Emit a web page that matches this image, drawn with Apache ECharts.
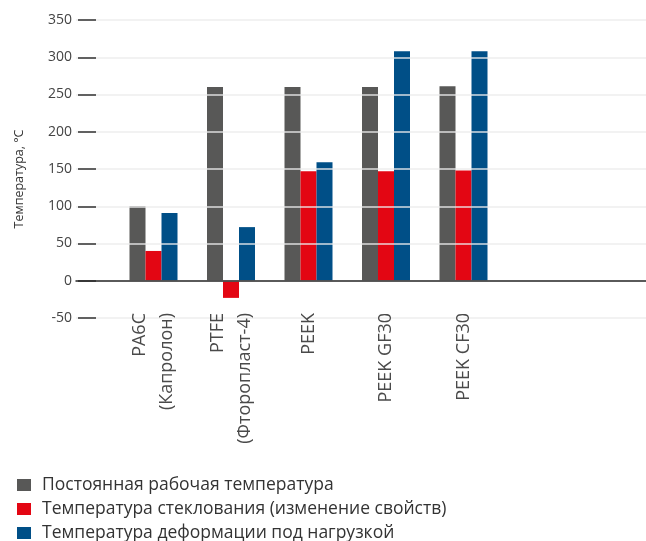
<!DOCTYPE html>
<html lang="ru">
<head>
    <meta charset="UTF-8">
    <title>Температуры материалов</title>
    <script src="https://cdn.jsdelivr.net/npm/echarts/dist/echarts.min.js"></script>
    <style>
        body { margin: 0; background: #fff; }
        #chart { width: 646px; height: 541px; }
    </style>
</head>
<body>
<div id="chart"></div>
<script>
    // материалы и значения (°C)
    const materials = ['PA6C\n(Капролон)', 'PTFE\n(Фторопласт-4)', 'PEEK', 'PEEK GF30', 'PEEK CF30'];
    const workTemp = [100, 260, 260, 260, 261];
    const glassTemp = [40, -23, 147, 147, 148];
    const deformTemp = [91, 72, 159, 308, 308];
    const seriesNames = [
        'Постоянная рабочая температура',
        'Температура стеклования (изменение свойств)',
        'Температура деформации под нагрузкой'
    ];
    const colors = ['#585857', '#e30613', '#004f87'];

    // пустые категории слева и справа, как на исходнике
    const pad = arr => ['-'].concat(arr, ['-', '-', '-']);
    const categories = [''].concat(materials, ['', '', '']);

    const chart = echarts.init(document.getElementById('chart'));
    const font = '"Open Sans", "Noto Sans", sans-serif';

    chart.setOption({
        animation: false,
        color: colors,
        textStyle: { fontFamily: font },
        grid: { left: 76, top: 20, right: -50, bottom: 223, outerBoundsMode: 'none' },
        legend: {
            orient: 'vertical',
            left: 17,
            top: 476,
            height: 100,
            padding: 0,
            icon: 'rect',
            itemWidth: 14,
            itemHeight: 12,
            itemGap: 6,
            textStyle: { fontSize: 17.5, color: '#333', fontFamily: font, padding: [0, 0, 0, 6] },
            data: seriesNames
        },
        xAxis: {
            type: 'category',
            data: categories,
            boundaryGap: false,
            z: 6,
            axisLine: { onZero: true, lineStyle: { color: '#2a2a2a', width: 1.5 } },
            axisTick: { show: false },
            axisLabel: {
                interval: 0,
                rotate: 90,
                margin: -5,
                fontSize: 18,
                lineHeight: 27,
                color: '#4a4a4a',
                fontFamily: font
            }
        },
        yAxis: {
            type: 'value',
            min: -50,
            max: 350,
            interval: 50,
            offset: -2,
            z: 5,
            name: 'Температура, °C',
            nameLocation: 'middle',
            nameGap: 52,
            nameTextStyle: { fontSize: 12.5, color: '#333', fontFamily: font, padding: [0, 20, 0, 0] },
            axisLine: { show: false },
            axisTick: { show: true, inside: true, length: 18, lineStyle: { color: '#333', width: 1.5 } },
            axisLabel: { margin: 6, fontSize: 14, color: '#444', fontFamily: font },
            splitLine: { show: true, lineStyle: { color: 'rgba(236,236,236,0.9)', width: 1.5 } }
        },
        series: [
            { name: seriesNames[0], type: 'bar', barWidth: 16, barGap: '0%', data: pad(workTemp) },
            { name: seriesNames[1], type: 'bar', barWidth: 16, barGap: '0%', data: pad(glassTemp) },
            { name: seriesNames[2], type: 'bar', barWidth: 16, barGap: '0%', data: pad(deformTemp) }
        ]
    });
</script>
</body>
</html>
